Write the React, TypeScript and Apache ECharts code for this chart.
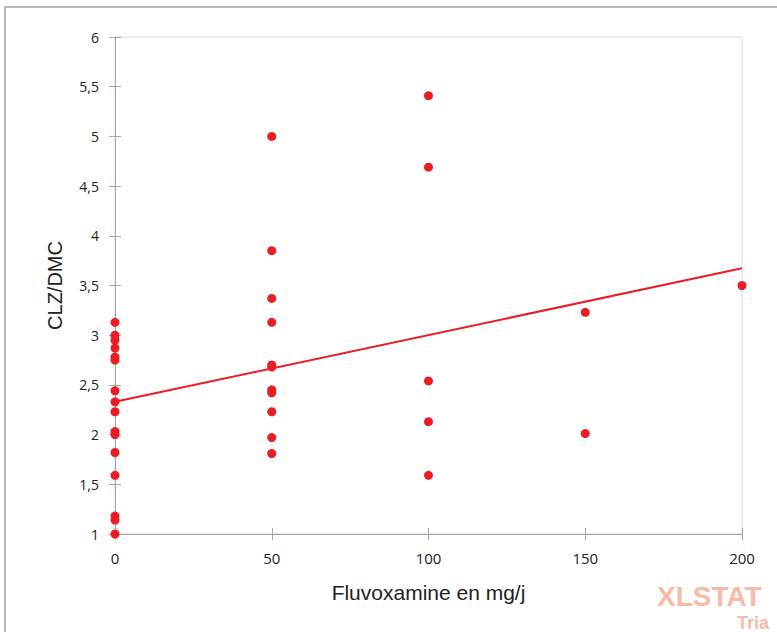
import React, { useEffect, useRef } from "react";
import * as echarts from "echarts";

const doses0: number[] = [3.13, 3.0, 2.95, 2.87, 2.78, 2.75, 2.44, 2.33, 2.23, 2.03, 2.0, 1.82, 1.59, 1.18, 1.14, 1.0];
const doses50: number[] = [5.0, 3.85, 3.37, 3.13, 2.7, 2.68, 2.45, 2.42, 2.23, 1.97, 1.81];
const doses100: number[] = [5.41, 4.69, 2.54, 2.13, 1.59];
const doses150: number[] = [3.23, 2.01];
const doses200: number[] = [3.5];
const doseLevels: number[] = [0, 50, 100, 150, 200];

const groups = [doses0, doses50, doses100, doses150, doses200];

function buildPoints(): [number, number][] {
  const pts: [number, number][] = [];
  groups.forEach((g, i) => g.forEach((v) => pts.push([doseLevels[i], v])));
  return pts;
}

function regression(pts: [number, number][]) {
  const n = pts.length;
  const mx = pts.reduce((s, p) => s + p[0], 0) / n;
  const my = pts.reduce((s, p) => s + p[1], 0) / n;
  let sxy = 0, sxx = 0;
  pts.forEach((p) => {
    sxy += (p[0] - mx) * (p[1] - my);
    sxx += (p[0] - mx) * (p[0] - mx);
  });
  const b = sxy / sxx;
  return { a: my - b * mx, b };
}

export default function App() {
  const ref = useRef<HTMLDivElement>(null);
  useEffect(() => {
    if (!ref.current) return;
    const chart = echarts.init(ref.current, undefined, { renderer: "svg" });
    const pts = buildPoints();
    const { a, b } = regression(pts);
    const xMin = 0, xMax = 200;
    const line: [number, number][] = [
      [xMin, a + b * xMin],
      [xMax, a + b * xMax],
    ];
    const fmt = (v: number) => String(v).replace(".", ",");
    const axisColor = "#a6a6a6";
    chart.setOption({
      animation: false,
      backgroundColor: "#ffffff",
      grid: {
        left: 115, right: 35, top: 37, bottom: 98,
        show: true, borderColor: "#d9d9d9", borderWidth: 1,
      },
      xAxis: [
        {
          type: "value", min: 0, max: 200, interval: 50,
          name: "Fluvoxamine en mg/j", nameLocation: "middle", nameGap: 48,
          nameTextStyle: { fontFamily: "Liberation Sans", fontSize: 21, color: "#222" },
          axisLine: { lineStyle: { color: axisColor } },
          axisTick: { show: true, length: 6, lineStyle: { color: axisColor } },
          axisLabel: { margin: 16, fontFamily: "Open Sans", fontSize: 15, color: "#222" },
          splitLine: { show: false },
        },
        {
          type: "value", min: 0, max: 200, interval: 50, position: "bottom",
          axisLine: { show: false },
          axisTick: { show: true, inside: true, length: 6, lineStyle: { color: axisColor } },
          axisLabel: { show: false },
          splitLine: { show: false },
        },
      ],
      yAxis: [
        {
          type: "value", min: 1, max: 6, interval: 0.5,
          name: "CLZ/DMC", nameLocation: "middle", nameGap: 50,
          nameTextStyle: { fontFamily: "Liberation Sans", fontSize: 20, color: "#222" },
          axisLine: { show: true, lineStyle: { color: axisColor } },
          axisTick: { show: true, length: 6, lineStyle: { color: axisColor } },
          axisLabel: { margin: 16, fontFamily: "Open Sans", fontSize: 14, color: "#222", formatter: fmt },
          splitLine: { show: false },
        },
        {
          type: "value", min: 1, max: 6, interval: 0.5, position: "left",
          axisLine: { show: false },
          axisTick: { show: true, inside: true, length: 6, lineStyle: { color: axisColor } },
          axisLabel: { show: false },
          splitLine: { show: false },
        },
      ],
      series: [
        {
          type: "line",
          data: line,
          symbol: "none",
          lineStyle: { color: "#ec1c24", width: 2 },
          z: 2,
        },
        {
          type: "scatter",
          data: pts,
          symbolSize: 9,
          itemStyle: { color: "#ec1c24", opacity: 1 },
          z: 3,
        },
      ],
      graphic: [
        {
          type: "rect",
          shape: { x: 5, y: 7, width: 900, height: 800 },
          style: { fill: "none", stroke: "#a0a0a0", lineWidth: 1.5 },
          silent: true,
        },
        {
          type: "text",
          left: 657, top: 582,
          style: { text: "XLSTAT", fontFamily: "Liberation Sans", fontWeight: "bold", fontSize: 28, fill: "#f9b9a8" },
          silent: true,
        },
        {
          type: "text",
          left: 737, top: 614,
          style: { text: "Tria", fontFamily: "Liberation Sans", fontWeight: "bold", fontSize: 18, fill: "#f9b9a8" },
          silent: true,
        },
      ],
    });
    return () => chart.dispose();
  }, []);
  return <div ref={ref} style={{ width: 777, height: 632, position: "absolute", left: 0, top: 0 }} />;
}
